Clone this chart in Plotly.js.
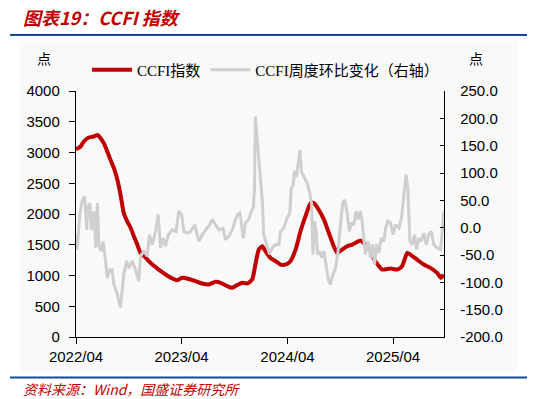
<!DOCTYPE html>
<html>
<head>
<meta charset="utf-8">
<script src="https://cdn.plot.ly/plotly-3.0.1.min.js"></script>
<style>
  html, body { margin: 0; padding: 0; background: #ffffff; }
  #chart { width: 537px; height: 399px; }
</style>
</head>
<body>
<div id="chart"></div>
<script>
// ---- Data ----
const ccfiDates = [
  '2022-04-01','2022-04-17','2022-04-28','2022-05-15','2022-06-02','2022-06-14','2022-06-25',
  '2022-07-06','2022-07-18','2022-07-29','2022-08-10','2022-08-22','2022-09-02','2022-09-13',
  '2022-09-25','2022-10-07','2022-10-18','2022-10-30','2022-11-10','2022-11-22','2022-12-09',
  '2022-12-21','2023-01-12','2023-02-05','2023-02-28','2023-03-17','2023-04-03','2023-04-26',
  '2023-05-19','2023-06-11','2023-07-04','2023-07-27','2023-08-14','2023-09-06','2023-09-23',
  '2023-10-10','2023-10-28','2023-11-14','2023-12-01','2023-12-12','2023-12-24','2024-01-05',
  '2024-01-16','2024-02-02','2024-02-20','2024-03-08','2024-03-25','2024-04-11','2024-04-29',
  '2024-05-16','2024-06-02','2024-06-20','2024-07-01','2024-07-18','2024-08-05','2024-08-22',
  '2024-09-08','2024-09-20','2024-10-07','2024-10-24','2024-11-11','2024-11-28','2024-12-09',
  '2024-12-26','2025-01-13','2025-01-27','2025-02-10','2025-02-22','2025-03-23','2025-04-15',
  '2025-05-02','2025-05-20','2025-05-31','2025-06-23','2025-07-16','2025-08-08','2025-08-31',
  '2025-09-14','2025-09-22'
];
const ccfiValues = [
  3054,3098,3179,3244,3260,3286,3232,
  3152,3017,2881,2746,2557,2313,2016,
  1881,1773,1638,1502,1367,1314,1233,
  1178,1097,1016,951,924,962,943,
  908,870,854,897,881,827,800,
  843,881,870,935,1178,1421,1475,
  1394,1286,1233,1178,1178,1233,1420,
  1720,1962,2178,2178,2070,1908,1692,
  1476,1367,1421,1476,1503,1546,1567,
  1503,1400,1250,1160,1097,1113,1097,
  1151,1367,1340,1259,1178,1124,1043,
  962,1016
];

const wowDates = [
  '2022-04-01','2022-04-05','2022-04-14','2022-04-23','2022-05-01','2022-05-08','2022-05-12',
  '2022-05-19','2022-05-24','2022-05-28','2022-06-02','2022-06-08','2022-06-14','2022-06-19',
  '2022-06-27','2022-07-04','2022-07-12','2022-07-18','2022-07-27','2022-08-04','2022-08-10',
  '2022-08-22','2022-09-02','2022-09-08','2022-09-13','2022-09-23','2022-10-01','2022-10-12',
  '2022-10-24','2022-11-04','2022-11-10','2022-11-22','2022-12-03','2022-12-11','2022-12-21',
  '2023-01-01','2023-01-10','2023-01-18','2023-01-26','2023-02-05','2023-02-14','2023-02-28',
  '2023-03-13','2023-03-22','2023-04-01','2023-04-09','2023-04-20','2023-05-02','2023-05-17',
  '2023-05-25','2023-05-31','2023-06-11','2023-06-23','2023-07-07','2023-07-16','2023-07-27',
  '2023-08-08','2023-08-22','2023-08-31','2023-09-11','2023-09-23','2023-10-04','2023-10-12',
  '2023-10-19','2023-10-24','2023-10-31','2023-11-08','2023-11-19','2023-11-28','2023-12-05',
  '2023-12-09','2023-12-12','2023-12-18','2023-12-27','2024-01-05','2024-01-10','2024-01-22',
  '2024-01-30','2024-02-08','2024-02-20','2024-03-02','2024-03-08','2024-03-19','2024-03-31',
  '2024-04-09','2024-04-14','2024-04-21','2024-04-25','2024-05-02','2024-05-07','2024-05-14',
  '2024-05-19','2024-05-27','2024-06-08','2024-06-16','2024-06-23','2024-06-28','2024-07-04',
  '2024-07-09','2024-07-14','2024-07-21','2024-07-28','2024-08-05','2024-08-13','2024-08-20',
  '2024-08-27','2024-09-05','2024-09-14','2024-09-23','2024-10-01','2024-10-09','2024-10-16',
  '2024-10-24','2024-11-01','2024-11-08','2024-11-16','2024-11-24','2024-12-01','2024-12-09',
  '2024-12-15','2024-12-21','2024-12-26','2025-01-05','2025-01-13','2025-01-20','2025-01-27',
  '2025-02-03','2025-02-11','2025-02-19','2025-02-28','2025-03-06','2025-03-14','2025-03-23',
  '2025-04-01','2025-04-09','2025-04-21','2025-04-30','2025-05-08','2025-05-16','2025-05-22',
  '2025-05-29','2025-06-06','2025-06-14','2025-06-21','2025-06-29','2025-07-07','2025-07-16',
  '2025-07-25','2025-08-02','2025-08-11','2025-08-20','2025-08-31','2025-09-12','2025-09-18',
  '2025-09-23'
];
const wowValues = [
  -12,-40,24,51,57,-4,36,
  45,-4,24,30,-37,45,-31,
  -43,-25,-61,-92,-77,-77,-104,
  -122,-146,-119,-86,-61,-74,-61,
  -77,-98,-52,-43,-52,-13,-31,
  -7,24,-37,-19,-34,-13,-4,
  -7,30,24,-7,-10,-7,5,
  -13,-25,-13,-4,5,15,5,
  -4,-1,-22,-16,-4,15,24,
  27,12,-19,9,15,30,36,
  72,203,163,115,48,-13,-34,
  -49,-37,-31,-31,-7,-1,18,
  27,72,78,104,93,110,142,
  103,93,81,66,45,-49,12,
  -7,-49,-43,-55,-43,-74,-95,
  -104,-86,-74,-43,5,45,51,
  27,-7,9,5,30,15,30,
  12,-19,-49,-25,-55,-30,-67,
  -30,-46,-19,-25,-1,12,9,
  -13,5,-1,18,60,97,72,
  -25,-31,-13,-40,-19,-25,-10,
  -31,-13,-7,-31,-37,-40,-7,
  30
];

const seriesNames = ['CCFI指数', 'CCFI周度环比变化（右轴）'];
const xTickStart = '2022-04-01';
const xRange = ['2022-04-01', '2025-09-24'];
const leftRange = [0, 4000];
const rightTickVals = [-200, -150, -100, -50, 0, 50, 100, 150, 200, 250];
const rightTickText = ['-200.0','-150.0','-100.0','-50.0','0.0','50.0','100.0','150.0','200.0','250.0'];

const titleText = '图表19：CCFI 指数';
const sourceText = '资料来源：Wind，国盛证券研究所';
const unitText = '点';

// ---- Layout helpers (pixel -> paper) ----
const W = 537, H = 399;
const M = { l: 76, r: 93, t: 91, b: 62 };
const PW = W - M.l - M.r, PH = H - M.t - M.b;
const px = x => (x - M.l) / PW;
const py = y => (H - M.b - y) / PH;

const tickFont = { family: 'Liberation Sans, Arial, sans-serif', size: 15, color: '#000' };
const cjkFont = 'Liberation Serif, "Noto Sans CJK SC", serif';

const traces = [
  {
    x: ccfiDates, y: ccfiValues, name: seriesNames[0], type: 'scatter', mode: 'lines',
    line: { color: '#C00000', width: 4, shape: 'spline', smoothing: 0.6 }, yaxis: 'y', hoverinfo: 'skip'
  },
  {
    x: wowDates, y: wowValues, name: seriesNames[1], type: 'scatter', mode: 'lines',
    line: { color: '#CFCFCF', width: 3 }, yaxis: 'y2', hoverinfo: 'skip'
  }
];

const layout = {
  width: W, height: H,
  margin: M,
  paper_bgcolor: '#ffffff',
  plot_bgcolor: 'rgba(0,0,0,0)',
  showlegend: true,
  title: {
    text: titleText, xref: 'container', yref: 'container',
    x: 23 / W, xanchor: 'left', y: 1 - 19 / H, yanchor: 'middle',
    font: { family: '"Noto Sans CJK SC", sans-serif', size: 18, color: '#C00000', weight: 'bold', style: 'italic' }
  },
  legend: {
    orientation: 'h', x: px(87), xanchor: 'left', y: py(70), yanchor: 'middle',
    font: { family: cjkFont, size: 15, color: '#000' },
    bgcolor: 'rgba(0,0,0,0)', itemwidth: 40, tracegroupgap: 0
  },
  xaxis: {
    type: 'date', range: xRange, tick0: xTickStart, dtick: 'M12', tickformat: '%Y/%m',
    ticks: 'outside', ticklen: 6, tickcolor: '#000', tickwidth: 1,
    showline: true, linecolor: '#000', linewidth: 1.2, showgrid: false, zeroline: false,
    tickfont: tickFont, fixedrange: true
  },
  yaxis: {
    range: leftRange, dtick: 500, ticks: 'outside', ticklen: 6, tickcolor: '#000',
    showline: true, linecolor: '#000', linewidth: 1.2, showgrid: false, zeroline: false,
    tickfont: tickFont, ticklabelstandoff: 6, fixedrange: true
  },
  yaxis2: {
    overlaying: 'y', side: 'right', range: [-200, 250],
    tickmode: 'array', tickvals: rightTickVals, ticktext: rightTickText,
    ticks: 'inside', ticklen: 4, tickcolor: '#000',
    showline: true, linecolor: '#000', linewidth: 1.2, showgrid: false, zeroline: false,
    tickfont: tickFont, ticklabelstandoff: 12, fixedrange: true
  },
  shapes: [
    { type: 'rect', xref: 'paper', yref: 'paper', layer: 'below',
      x0: px(20), x1: px(518), y0: py(372), y1: py(41),
      fillcolor: '#F9F9F9', line: { width: 0 } },
    { type: 'line', xref: 'paper', yref: 'paper', x0: px(10), x1: px(527), y0: py(35), y1: py(35),
      line: { color: '#134A97', width: 2.2 } },
    { type: 'line', xref: 'paper', yref: 'paper', x0: px(10), x1: px(527), y0: py(377.5), y1: py(377.5),
      line: { color: '#134A97', width: 2.2 } }
  ],
  annotations: [
    { text: unitText, xref: 'paper', yref: 'paper', x: px(44), y: py(58), xanchor: 'center', yanchor: 'middle',
      showarrow: false, font: { family: '"Noto Sans CJK SC", sans-serif', size: 14, color: '#000' } },
    { text: unitText, xref: 'paper', yref: 'paper', x: px(476), y: py(58), xanchor: 'center', yanchor: 'middle',
      showarrow: false, font: { family: '"Noto Sans CJK SC", sans-serif', size: 14, color: '#000' } },
    { text: sourceText, xref: 'paper', yref: 'paper', x: px(22), y: py(389), xanchor: 'left', yanchor: 'middle',
      borderpad: 0, align: 'left',
      showarrow: false, font: { family: '"Noto Sans CJK SC", sans-serif', size: 14, color: '#C00000', style: 'italic' } }
  ]
};

Plotly.newPlot('chart', traces, layout, { staticPlot: true, displayModeBar: false });
</script>
</body>
</html>
